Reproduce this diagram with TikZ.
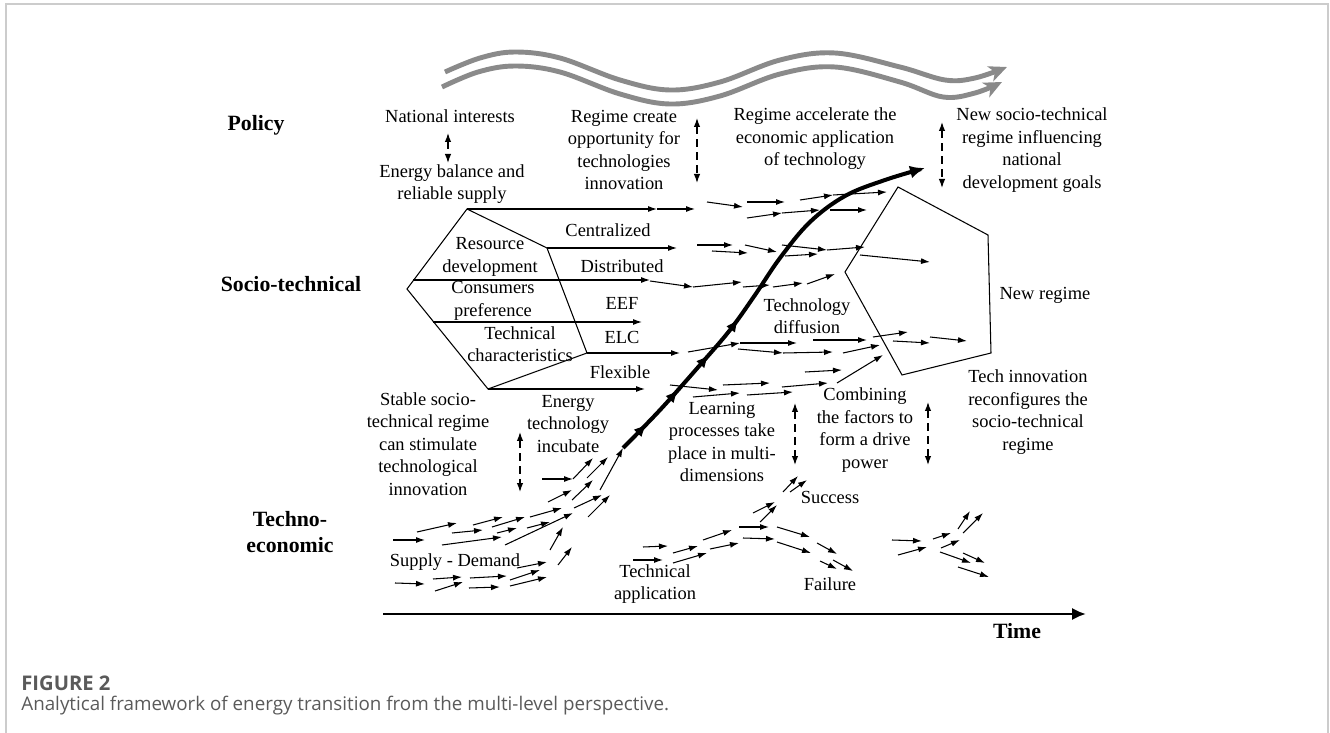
\documentclass[tikz,border=0pt]{standalone}
\usepackage{fontspec}
\setmainfont{Liberation Serif}
\newfontfamily\capfont{Open Sans}
\usetikzlibrary{arrows.meta,decorations.markings,positioning}
\definecolor{waveg}{HTML}{8A8A8A}
\definecolor{frameg}{HTML}{CCCCCC}
\definecolor{capg}{HTML}{5A5A5A}

\tikzset{
  lbl/.style={font=\fontsize{10.5}{12.8}\selectfont, align=center, inner sep=0pt},
  level/.style={font=\fontsize{12.4}{14.5}\selectfont\bfseries, align=center, inner sep=0pt},
  flow/.style={line width=0.6pt, -{Latex[length=1.8mm,width=1.2mm]}},
  link/.style={line width=0.7pt, dash pattern=on 1.6mm off 1mm,
    {Latex[length=1.8mm,width=1.3mm]}-{Latex[length=1.8mm,width=1.3mm]}},
  regime/.style={line width=0.6pt},
  wave/.style={line width=2.8pt, draw=waveg, -{Stealth[length=3.6mm,width=3.2mm,inset=1mm]}},
}

\begin{document}
\begin{tikzpicture}[x=0.02cm, y=-0.02cm]
    \useasboundingbox (0,0) rectangle (1330,733);
    \draw[frameg, line width=0.8pt] (6,733) -- (6,4) -- (1328,4) -- (1328,733);

    % level names
    \node[level] (policy) at (256,125) {Policy};
    \node[level] (socio) at (291,284) {Socio-technical};
    \node[level] (techno) at (290,532) {Techno-\\economic};
    \node[level] (time) at (1017,631) {Time};

    % top wave
    \draw[wave] plot[smooth, tension=0.6] coordinates {(445,72) (480,58) (515,52) (560,58) (620,80) (670,90) (720,82) (780,60) (835,53) (900,67) (945,80) (975,78) (1007,67)};
    \draw[wave] plot[smooth, tension=0.6] coordinates {(442,87) (478,72) (515,66) (560,72) (620,94) (670,104) (720,96) (780,74) (835,67) (900,82) (943,97) (975,93) (1002,82)};

    % policy texts
    \node[lbl] (natint) at (450,116) {National interests};
    \node[lbl] (balance) at (452,184) {Energy balance and\\reliable supply};
    \node[lbl] (create) at (624,150) {Regime create\\opportunity for\\technologies\\innovation};
    \node[lbl] (accel) at (815,139) {Regime accelerate the\\economic application\\of technology};
    \node[lbl] (goals) at (1032,150) {New socio-technical\\regime influencing\\national\\development goals};
    \draw[link] (448,133) -- (448,163);
    \draw[link] (697,118) -- (697,183);
    \draw[link] (942,122) -- (942,188);

    % old regime
    \coordinate (o1) at (467,209);
    \coordinate (o2) at (547,248);
    \coordinate (o3) at (587,353);
    \coordinate (o4) at (488,389);
    \coordinate (o5) at (407,289);
    \draw[regime] (o1) -- (o2) -- (o3) -- (o4) -- (o5) -- cycle;
    \node[lbl] (resdev) at (490,257) {Resource\\development};
    \node[lbl] (consum) at (493,301) {Consumers\\preference};
    \node[lbl] (techchar) at (520,344) {Technical\\characteristics};
    \node[lbl] (central) at (608,230) {Centralized};
    \node[lbl] (distrib) at (622,266) {Distributed};
    \node[lbl] (eef) at (622,303) {EEF};
    \node[lbl] (elc) at (622,337) {ELC};
    \node[lbl] (flex) at (620,372) {Flexible};
    \draw[flow] (o1) -- (657,209);
    \draw[flow] (o2) -- (677,248);
    \draw[flow] (413,280) -- (650,280);
    \draw[flow] (433,322) -- (642,322);
    \draw[flow] (o3) -- (680,353);
    \draw[flow] (o4) -- (645,389);

    % new regime
    \coordinate (n1) at (898,187);
    \coordinate (n2) at (988,235);
    \coordinate (n3) at (991,353);
    \coordinate (n4) at (902,375);
    \coordinate (n5) at (845,272);
    \draw[regime] (n1) -- (n2) -- (n3) -- (n4) -- (n5) -- cycle;
    \node[lbl] (newreg) at (1045,295) {New regime};
    \node[lbl] (diffuse) at (807,316) {Technology\\diffusion};

    % socio-technical flows
    \foreach \xa/\ya/\xb/\yb in {657/209/695/209, 707/202/743/207, 747/202/785/202, 747/218/782/213,
        782/213/820/210, 830/210/867/210, 800/200/833/195, 833/195/887/192,
        697/245/733/245, 712/251/748/253, 745/245/777/252, 782/245/827/250, 785/256/818/254,
        827/250/865/247, 860/255/930/262,
        650/281/693/287, 693/287/742/282, 743/287/770/285, 773/287/803/283, 807/284/835/274,
        688/352/740/343, 740/343/797/343, 738/349/783/353, 783/353/833/352, 813/340/867/340,
        843/353/880/345, 873/337/908/332, 893/341/930/343, 930/337/967/341,
        805/372/842/370, 837/383/883/355,
        670/385/718/390, 723/385/770/383, 782/387/828/383, 693/397/740/393, 747/395/793/392}
      \draw[flow] (\xa,\ya) -- (\xb,\yb);

    % techno-economic flows
    \foreach \xa/\ya/\xb/\yb in {393/540/425/540, 417/532/457/523, 452/533/483/530, 473/525/503/517,
        492/527/525/517, 497/533/517/528, 442/545/502/537, 530/517/562/508, 527/528/550/522,
        505/545/573/513, 548/502/572/490, 542/479/573/479, 573/479/593/458, 587/478/608/457,
        572/500/593/480, 574/508/602/495, 600/490/623/448, 588/517/610/495, 550/550/563/527,
        558/565/572/547, 517/568/547/562, 395/583/425/584, 433/579/462/577, 435/591/463/582,
        470/578/507/576, 469/588/500/587, 510/580/540/570, 510/586/547/577,
        643/547/668/546, 633/560/663/560, 673/553/698/546, 673/563/707/553, 703/540/732/530,
        710/549/739/543, 739/527/769/527, 743/538/775/539, 753/513/775/502, 760/522/777/505,
        783/492/798/476, 790/492/807/480, 777/527/810/537, 777/542/811/553, 817/543/837/554,
        820/561/837/569, 833/560/853/571,
        892/540/922/541, 898/555/927/547, 933/539/951/533, 941/548/960/540, 958/529/970/511,
        963/533/983/513, 940/552/971/563, 963/553/985/563, 958/567/989/577}
      \draw[flow] (\xa,\ya) -- (\xb,\yb);

    % main path of the transition
    \draw[line width=2.3pt, -{Latex[length=3mm,width=2.6mm]},
      postaction={decorate, decoration={markings,
        mark=at position 0.08 with {\arrow{Latex[length=2.6mm,width=2.2mm]}},
        mark=at position 0.19 with {\arrow{Latex[length=2.6mm,width=2.2mm]}},
        mark=at position 0.30 with {\arrow{Latex[length=2.6mm,width=2.2mm]}},
        mark=at position 0.41 with {\arrow{Latex[length=2.6mm,width=2.2mm]}}}}]
      plot[smooth, tension=0.6] coordinates {(623,448) (660,410) (700,365) (730,330) (755,295) (780,258) (810,222) (845,196) (885,180) (925,168)};

    % lower texts
    \node[lbl] (stable) at (428,444) {Stable socio-\\technical regime\\can stimulate\\technological\\innovation};
    \node[lbl] (incub) at (568,424) {Energy\\technology\\incubate};
    \node[lbl] (learn) at (722,442) {Learning\\processes take\\place in multi-\\dimensions};
    \node[lbl] (combine) at (865,430) {Combining\\the factors to\\form a drive\\power};
    \node[lbl] (reconf) at (1028,412) {Tech innovation\\reconfigures the\\socio-technical\\regime};
    \node[lbl] (supply) at (455,562) {Supply - Demand};
    \node[lbl] (success) at (830,497) {Success};
    \node[lbl] (failure) at (830,584) {Failure};
    \node[lbl] (techapp) at (655,584) {Technical\\application};
    \draw[link] (520,432) -- (520,492);
    \draw[link] (795,403) -- (795,465);
    \draw[link] (928,402) -- (928,465);

    % time axis
    \coordinate (t0) at (383,614);
    \coordinate (t1) at (1086,614);
    \draw[line width=1.7pt, -{Latex[length=2.8mm,width=2.5mm]}] (t0) -- (t1);

    % caption
    \node[anchor=west, inner sep=0pt, text=capg, font=\capfont\bfseries\fontsize{11.5}{12}\selectfont] (fig) at (21,683) {FIGURE 2};
    \node[anchor=west, inner sep=0pt, text=capg, font=\capfont\fontsize{10.7}{12}\selectfont] (cap) at (21,706) {Analytical framework of energy transition from the multi-level perspective.};
\end{tikzpicture}
\end{document}
